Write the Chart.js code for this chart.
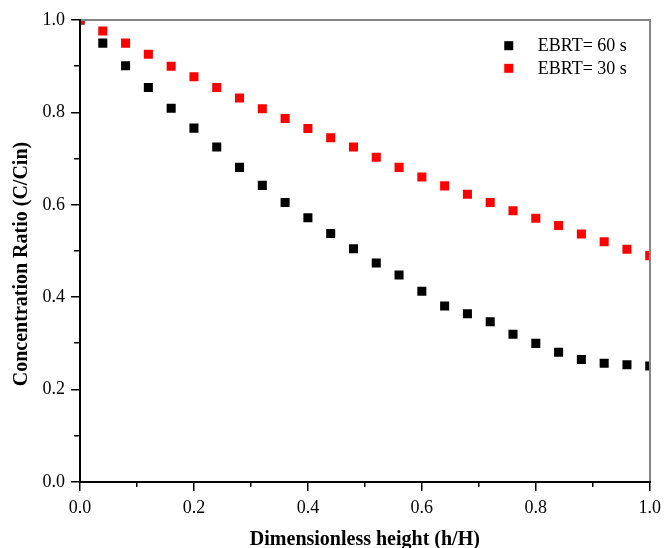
<!DOCTYPE html>
<html>
<head>
<meta charset="utf-8">
<script src="https://cdn.jsdelivr.net/npm/chart.js@4/dist/chart.umd.min.js"></script>
<style>
  html, body { margin: 0; padding: 0; background: #fff; }
  #wrap { width: 667px; height: 548px; }
</style>
</head>
<body>
<div id="wrap"><canvas id="c" width="667" height="548"></canvas></div>
<script>
// Dimensionless bed height (h/H)
const heights = [0.00, 0.04, 0.08, 0.12, 0.16, 0.20, 0.24, 0.28, 0.32, 0.36, 0.40, 0.44, 0.48,
                 0.52, 0.56, 0.60, 0.64, 0.68, 0.72, 0.76, 0.80, 0.84, 0.88, 0.92, 0.96, 1.00];
// Concentration ratio C/Cin for each empty-bed residence time
const ratioEbrt60 = [1.000, 0.950, 0.901, 0.854, 0.809, 0.766, 0.725, 0.681, 0.642, 0.605, 0.572, 0.538, 0.505,
                     0.474, 0.448, 0.413, 0.381, 0.364, 0.347, 0.320, 0.300, 0.281, 0.265, 0.257, 0.254, 0.251];
const ratioEbrt30 = [1.000, 0.976, 0.950, 0.926, 0.900, 0.877, 0.854, 0.831, 0.808, 0.787, 0.765, 0.745, 0.725,
                     0.703, 0.681, 0.660, 0.641, 0.623, 0.605, 0.587, 0.571, 0.555, 0.537, 0.520, 0.504, 0.490];
const seriesLabels = ['EBRT= 60 s', 'EBRT= 30 s'];
const seriesColors = ['#000000', '#ff0000'];
const xTitle = 'Dimensionless height (h/H)';
const yTitle = 'Concentration Ratio (C/Cin)';
const minorTickValues = [0.1, 0.3, 0.5, 0.7, 0.9];

const SERIF = '"Liberation Serif", "Times New Roman", serif';

const toPoints = (xs, ys) => xs.map((x, i) => ({ x: x, y: ys[i] }));

// Axis lines, plot frame, minor ticks, inside legend and vertical axis title
const decorations = {
  id: 'decorations',
  afterDatasetsDraw(chart) {
    const { ctx, chartArea: a, scales } = chart;
    const L = Math.round(a.left), R = Math.round(a.right);
    const T = Math.round(a.top), B = Math.round(a.bottom);
    ctx.save();
    // grey frame on top and right
    ctx.fillStyle = '#858585';
    ctx.fillRect(L, T - 1, R - L + 1, 2);
    ctx.fillRect(R - 1, T - 1, 2, B - T + 1);
    // black axis lines on left and bottom
    ctx.fillStyle = '#000';
    ctx.fillRect(L - 1, T - 1, 2, B - T + 2);
    ctx.fillRect(L - 1, B - 1, R - L + 2, 2);
    // minor ticks
    minorTickValues.forEach(v => {
      const px = Math.round(scales.x.getPixelForValue(v));
      ctx.fillRect(px - 1, B, 1.5, 5);
      const py = Math.round(scales.y.getPixelForValue(v));
      ctx.fillRect(L - 6, py - 1, 5, 1.5);
    });
    // legend inside the plot, upper right
    ctx.font = '18px ' + SERIF;
    ctx.textBaseline = 'middle';
    ctx.textAlign = 'left';
    chart.data.datasets.forEach((ds, i) => {
      const cx = a.right - 141;
      const cy = a.top + 25.7 + i * 22.6;
      ctx.fillStyle = ds.backgroundColor;
      ctx.fillRect(cx - 4.5, cy - 4.5, 9, 9);
      ctx.fillStyle = '#000';
      ctx.fillText(ds.label, a.right - 112, cy + 1);
    });
    // vertical axis title
    ctx.font = 'bold 20px ' + SERIF;
    ctx.textAlign = 'center';
    ctx.textBaseline = 'middle';
    ctx.translate(22, (a.top + a.bottom) / 2 + 13);
    ctx.rotate(-Math.PI / 2);
    ctx.fillText(yTitle, 0, 0);
    ctx.restore();
  }
};

new Chart(document.getElementById('c'), {
  type: 'scatter',
  data: {
    datasets: [
      {
        label: seriesLabels[0],
        data: toPoints(heights, ratioEbrt60),
        backgroundColor: seriesColors[0],
        borderColor: seriesColors[0],
        pointStyle: 'rect',
        pointRadius: 6.4,
        pointHoverRadius: 6.4,
        pointBorderWidth: 0,
        order: 1
      },
      {
        label: seriesLabels[1],
        data: toPoints(heights, ratioEbrt30),
        backgroundColor: seriesColors[1],
        borderColor: seriesColors[1],
        pointStyle: 'rect',
        pointRadius: 6.4,
        pointHoverRadius: 6.4,
        pointBorderWidth: 0,
        order: 0
      }
    ]
  },
  options: {
    responsive: false,
    animation: false,
    devicePixelRatio: 1,
    layout: { padding: { left: 0, top: 20, right: 13, bottom: 0 } },
    plugins: {
      legend: { display: false },
      tooltip: { enabled: false }
    },
    scales: {
      x: {
        type: 'linear',
        position: 'bottom',
        min: 0,
        max: 1,
        afterFit: s => { s.height = 66; },
        border: { display: false },
        grid: { display: true, drawOnChartArea: false, drawTicks: true, drawBorder: false, tickLength: 9, color: '#000000', lineWidth: 1.5 },
        ticks: {
          stepSize: 0.2,
          padding: 6,
          color: '#000',
          font: { family: SERIF, size: 18 },
          callback: v => Number(v).toFixed(1)
        },
        title: {
          display: true,
          text: xTitle,
          color: '#000',
          font: { family: SERIF, size: 20, weight: 'bold', lineHeight: 0.85 },
          padding: 0
        }
      },
      y: {
        type: 'linear',
        position: 'left',
        min: 0,
        max: 1,
        afterFit: s => { s.width = 80; },
        border: { display: false },
        grid: { display: true, drawOnChartArea: false, drawTicks: true, drawBorder: false, tickLength: 9, color: '#000000', lineWidth: 1.5 },
        ticks: {
          stepSize: 0.2,
          padding: 6,
          color: '#000',
          font: { family: SERIF, size: 18 },
          callback: v => Number(v).toFixed(1)
        },
        title: { display: false, text: yTitle }
      }
    }
  },
  plugins: [decorations]
});
</script>
</body>
</html>
